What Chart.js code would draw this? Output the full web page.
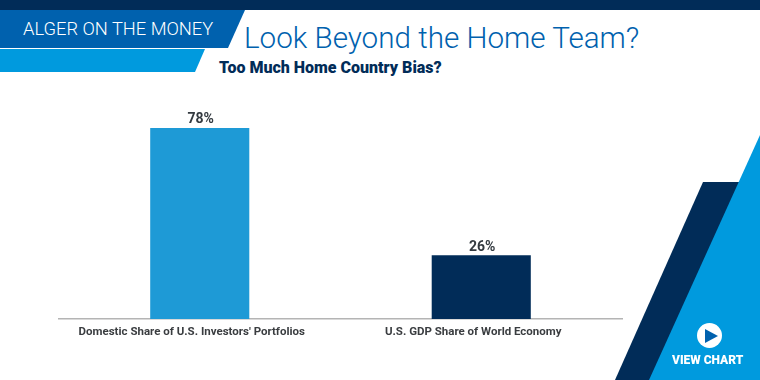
<!DOCTYPE html>
<html>
<head>
<meta charset="utf-8">
<title>Look Beyond the Home Team?</title>
<script src="https://cdn.jsdelivr.net/npm/chart.js@4"></script>
<style>
  html, body { margin: 0; padding: 0; background: #fff; }
  #page { position: relative; width: 760px; height: 380px; overflow: hidden; font-family: "Liberation Sans", sans-serif; }
  #page div { position: absolute; white-space: nowrap; }
  canvas { position: absolute; left: 0; top: 0; }
  #topBar { left: 0; top: 0; width: 760px; height: 10px; background: #012c58; }
  #bannerDark { left: 0; top: 10px; width: 245px; height: 38px; background: #0061ae; clip-path: polygon(0 0, 100% 0, 228px 100%, 0 100%); }
  #bannerLight { left: 0; top: 49px; width: 205px; height: 23px; background: #009ade; clip-path: polygon(0 0, 100% 0, 195px 100%, 0 100%); }
  #bannerText { left: 23px; top: 18px; font: 300 18.3px Roboto, sans-serif; color: #fff; }
  #title { left: 244px; top: 21px; font: 300 29.6px Roboto, sans-serif; color: #0061ae; }
  #subtitle { left: 219px; top: 58px; font: 900 16px Roboto, sans-serif; color: #012c58; }
  #wedgeNavy { left: 0; top: 0; width: 760px; height: 380px; background: #012c58; clip-path: polygon(703px 182px, 745px 182px, 655px 380px, 615px 380px); }
  #wedgeLight { left: 0; top: 0; width: 760px; height: 380px; background: #009ade; clip-path: polygon(760px 135px, 760px 380px, 649px 380px); }
  #playCircle { left: 697px; top: 323px; width: 25px; height: 25px; border-radius: 50%; background: #fff; }
  #playArrow { left: 705px; top: 329px; width: 13px; height: 14px; background: #0061ae; clip-path: polygon(0 0, 100% 50%, 0 100%); }
  #viewChart { left: 672px; top: 353px; font: 900 12px Roboto, sans-serif; color: #fff; }
</style>
</head>
<body>
<div id="page">
  <div id="topBar"></div>
  <div id="bannerDark"></div>
  <div id="bannerLight"></div>
  <div id="bannerText">ALGER ON THE MONEY</div>
  <div id="title">Look Beyond the Home Team?</div>
  <div id="subtitle">Too Much Home Country Bias?</div>
  <canvas id="myChart" width="760" height="380"></canvas>
  <div id="wedgeNavy"></div>
  <div id="wedgeLight"></div>
  <div id="playCircle"></div>
  <div id="playArrow"></div>
  <div id="viewChart">VIEW CHART</div>
</div>
<script>
'use strict';
const categories = ["Domestic Share of U.S. Investors' Portfolios", 'U.S. GDP Share of World Economy'];
const shares = [78, 26];
const barColors = ['#1e9ad6', '#012c58'];

// value labels above the bars
const valueLabels = {
  id: 'valueLabels',
  afterDatasetsDraw(chart) {
    const ctx = chart.ctx;
    const bars = chart.getDatasetMeta(0).data;
    ctx.save();
    ctx.font = 'bold 14px Roboto';
    ctx.fillStyle = '#333a40';
    ctx.textAlign = 'center';
    ctx.textBaseline = 'bottom';
    for (let i = 0; i < bars.length; i++) {
      ctx.fillText(shares[i] + '%', bars[i].x + 1, bars[i].y - 1);
    }
    ctx.restore();
  }
};

new Chart(document.getElementById('myChart'), {
  type: 'bar',
  data: {
    labels: categories,
    datasets: [{
      data: shares,
      backgroundColor: barColors,
      categoryPercentage: 1,
      barPercentage: 0.352
    }]
  },
  options: {
    responsive: false,
    animation: false,
    layout: { padding: { left: 59, right: 138, top: 74, bottom: 0 } },
    plugins: { legend: { display: false }, tooltip: { enabled: false } },
    scales: {
      x: {
        grid: { display: false },
        border: { color: '#b4b4b4', width: 1.5 },
        ticks: {
          color: '#3a3d40',
          font: { family: 'Roboto', size: 11.5, weight: 'bold' },
          padding: -2,
          labelOffset: -8,
          maxRotation: 0
        },
        afterFit(scale) { scale.height = 61; }
      },
      y: { display: false, min: 0, max: 100 }
    }
  },
  plugins: [valueLabels]
});
</script>
</body>
</html>
